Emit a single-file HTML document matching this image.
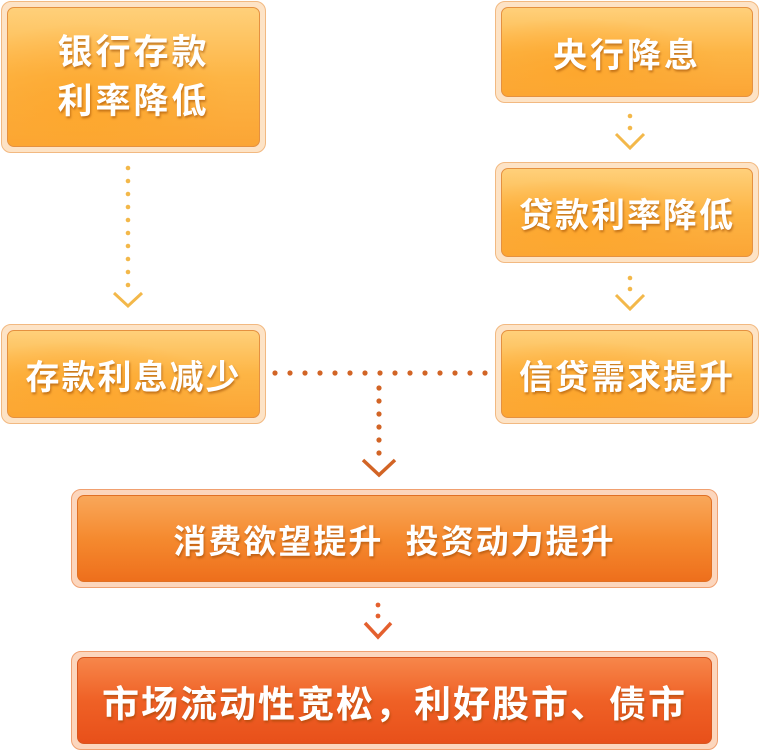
<!DOCTYPE html>
<html><head><meta charset="utf-8"><style>
body{margin:0;width:760px;height:751px;background:#fff;position:relative;overflow:hidden;font-family:"Liberation Sans","Noto Sans CJK SC",sans-serif}
.o{position:absolute;box-sizing:border-box;background:#fde3c6;border:1px solid #f2b981;border-radius:10px;padding:5px}
.i{width:100%;height:100%;box-sizing:border-box;border:1px solid #e59140;border-radius:7px;display:flex;align-items:center;justify-content:center;text-align:center;color:#fff;font-weight:bold;text-shadow:1px 2px 2px rgba(150,70,0,.55);letter-spacing:3px}
.y .i{background:radial-gradient(ellipse at 30% 75%,#fda72e 0%,rgba(253,167,46,0) 60%),linear-gradient(180deg,#ffd07a 0%,#fdb545 50%,#fba535 100%)}
.m .i{background:linear-gradient(180deg,#f9a75a 0%,#f58a2f 50%,#ee6f1c 100%);border-color:#e07024}
.r .i{background:linear-gradient(180deg,#f7864a 0%,#ef6126 50%,#e8501a 100%);border-color:#d8561e}
.m,.r{background:#fcd6bd;border-color:#f0a070}
svg{position:absolute;left:0;top:0}
</style></head><body>
<div class="o y" style="left:1px;top:1px;width:265px;height:152px"><div class="i" style="font-size:35px;line-height:49px">银行存款<br>利率降低</div></div>
<div class="o y" style="left:495px;top:1px;width:264px;height:102px"><div class="i" style="font-size:34px">央行降息</div></div>
<div class="o y" style="left:495px;top:162px;width:264px;height:101px"><div class="i" style="font-size:34px;letter-spacing:2px">贷款利率降低</div></div>
<div class="o y" style="left:1px;top:324px;width:265px;height:100px"><div class="i" style="font-size:34px;letter-spacing:2px">存款利息减少</div></div>
<div class="o y" style="left:495px;top:324px;width:264px;height:100px"><div class="i" style="font-size:34px;letter-spacing:2px">信贷需求提升</div></div>
<div class="o m" style="left:71px;top:489px;width:647px;height:99px"><div class="i" style="font-size:33px;letter-spacing:2px">消费欲望提升&nbsp;&nbsp;投资动力提升</div></div>
<div class="o r" style="left:71px;top:651px;width:647px;height:99px"><div class="i" style="font-size:37px;letter-spacing:2px">市场流动性宽松，利好股市、债市</div></div>
<svg width="760" height="751">
<g fill="#f3b84a">
<circle cx="128" cy="168" r="2.3"/><circle cx="128" cy="181" r="2.3"/><circle cx="128" cy="194" r="2.3"/><circle cx="128" cy="207" r="2.3"/><circle cx="128" cy="220" r="2.3"/><circle cx="128" cy="233" r="2.3"/><circle cx="128" cy="246" r="2.3"/><circle cx="128" cy="259" r="2.3"/><circle cx="128" cy="272" r="2.3"/><circle cx="128" cy="285" r="2.3"/>
<circle cx="630" cy="116" r="2.3"/><circle cx="630" cy="128" r="2.3"/>
<circle cx="630" cy="278" r="2.3"/><circle cx="630" cy="289" r="2.3"/>
</g>
<g fill="none" stroke="#f3b84a" stroke-width="3">
<polyline points="114,293 128,306 142,293"/>
<polyline points="616,134 630,148 644,134"/>
<polyline points="616,295 630,309 644,295"/>
</g>
<g fill="#d26425">
<circle cx="275" cy="373" r="2.6"/><circle cx="290" cy="373" r="2.6"/><circle cx="305" cy="373" r="2.6"/><circle cx="320" cy="373" r="2.6"/><circle cx="335" cy="373" r="2.6"/><circle cx="350" cy="373" r="2.6"/><circle cx="365" cy="373" r="2.6"/><circle cx="380" cy="373" r="2.6"/><circle cx="395" cy="373" r="2.6"/><circle cx="410" cy="373" r="2.6"/><circle cx="425" cy="373" r="2.6"/><circle cx="440" cy="373" r="2.6"/><circle cx="455" cy="373" r="2.6"/><circle cx="470" cy="373" r="2.6"/><circle cx="485" cy="373" r="2.6"/>
<circle cx="379" cy="388" r="2.6"/><circle cx="379" cy="401" r="2.6"/><circle cx="379" cy="414" r="2.6"/><circle cx="379" cy="427" r="2.6"/><circle cx="379" cy="440" r="2.6"/><circle cx="379" cy="453" r="2.6"/>
</g>
<polyline points="363,460 379,475 395,460" fill="none" stroke="#d26425" stroke-width="3.5"/>
<g fill="#e4602e"><circle cx="378" cy="605" r="2.4"/><circle cx="378" cy="616" r="2.4"/></g>
<polyline points="365,623 378,637 391,623" fill="none" stroke="#e4602e" stroke-width="3.5"/>
</svg>
</body></html>
